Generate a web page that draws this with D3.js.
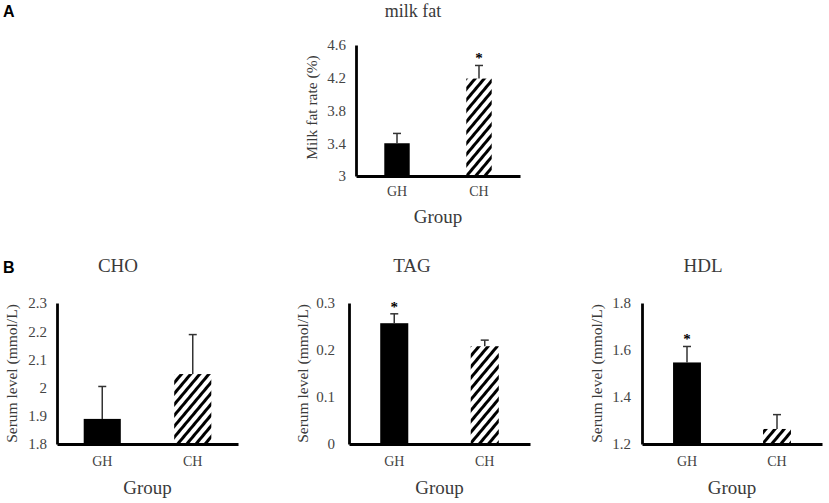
<!DOCTYPE html>
<html>
<head>
<meta charset="utf-8">
<script src="https://cdn.jsdelivr.net/npm/d3@7"></script>
<style>
  body { margin: 0; background: #fff; }
  text { font-family: "Liberation Serif", "Times New Roman", serif; fill: #3a3a3a; }
  .panel-letter { font-family: "Liberation Sans", Arial, sans-serif; font-weight: bold; fill: #000; }
</style>
</head>
<body>
<div id="chart"></div>
<script>
// groups on the x axis
var groups = ['GH', 'CH'];

// milk fat rate (%)
var milkFatMean = [3.40, 4.19];
var milkFatErr = [0.12, 0.16];
var milkFatTicks = [3, 3.4, 3.8, 4.2, 4.6];

// serum CHO (mmol/L)
var choMean = [1.889, 2.048];
var choErr = [0.115, 0.14];
var choTicks = [1.8, 1.9, 2, 2.1, 2.2, 2.3];

// serum TAG (mmol/L)
var tagMean = [0.257, 0.208];
var tagErr = [0.02, 0.013];
var tagTicks = [0, 0.1, 0.2, 0.3];

// serum HDL (mmol/L)
var hdlMean = [1.547, 1.264];
var hdlErr = [0.068, 0.061];
var hdlTicks = [1.2, 1.4, 1.6, 1.8];

// which group is marked significant (*)
var milkFatSig = ['CH'];
var tagSig = ['GH'];
var hdlSig = ['GH'];
var choSig = [];

var W = 829, H = 503;

var svg = d3.select('#chart').append('svg')
    .attr('width', W)
    .attr('height', H);

var defs = svg.append('defs');
defs.append('pattern')
    .attr('id', 'hatch')
    .attr('patternUnits', 'userSpaceOnUse')
    .attr('width', 7)
    .attr('height', 7)
    .attr('patternTransform', 'rotate(40)')
  .append('rect')
    .attr('x', 0).attr('y', 0)
    .attr('width', 3).attr('height', 7)
    .attr('fill', '#000');

// panel letters
svg.append('text').attr('class', 'panel-letter')
    .attr('x', 3).attr('y', 17).style('font-size', '16px').text('A');
svg.append('text').attr('class', 'panel-letter')
    .attr('x', 3).attr('y', 273).style('font-size', '16px').text('B');

function drawPanel(p) {
  var g = svg.append('g');

  var x = d3.scaleBand()
      .domain(groups)
      .range([p.left, p.right])
      .paddingInner(p.pad)
      .paddingOuter(p.pad / 2);

  var y = d3.scaleLinear()
      .domain([p.ticks[0], p.ticks[p.ticks.length - 1]])
      .range([p.bottom, p.top]);

  var rows = groups.map(function(k, i) {
    return { group: k, mean: p.mean[i], err: p.err[i], sig: p.sig.indexOf(k) >= 0 };
  });

  // bars
  g.selectAll('rect.bar')
    .data(rows)
    .enter()
    .append('rect')
      .attr('class', 'bar')
      .attr('x', function(d) { return x(d.group); })
      .attr('y', function(d) { return y(d.mean); })
      .attr('width', x.bandwidth())
      .attr('height', function(d) { return y(p.ticks[0]) - y(d.mean); })
      .attr('fill', function(d, i) { return i === 0 ? '#000' : 'url(#hatch)'; });

  // error bars, upper half only
  var eb = g.selectAll('g.err')
    .data(rows)
    .enter()
    .append('g')
      .attr('class', 'err')
      .attr('stroke', '#333')
      .attr('stroke-width', 1.5);
  eb.append('line')
      .attr('x1', function(d) { return x(d.group) + x.bandwidth() / 2; })
      .attr('x2', function(d) { return x(d.group) + x.bandwidth() / 2; })
      .attr('y1', function(d) { return y(d.mean); })
      .attr('y2', function(d) { return y(d.mean + d.err); });
  eb.append('line')
      .attr('x1', function(d) { return x(d.group) + x.bandwidth() / 2 - 4; })
      .attr('x2', function(d) { return x(d.group) + x.bandwidth() / 2 + 4; })
      .attr('y1', function(d) { return y(d.mean + d.err); })
      .attr('y2', function(d) { return y(d.mean + d.err); });

  // significance stars
  g.selectAll('text.sig')
    .data(rows.filter(function(d) { return d.sig; }))
    .enter()
    .append('text')
      .attr('class', 'sig')
      .attr('x', function(d) { return x(d.group) + x.bandwidth() / 2; })
      .attr('y', function(d) { return y(d.mean + d.err) - 2; })
      .attr('text-anchor', 'middle')
      .style('font-size', '15px')
      .style('font-weight', 'bold')
      .style('fill', '#000')
      .text('*');

  // y axis
  var yAxis = g.append('g')
      .attr('transform', 'translate(' + p.left + ',0)')
      .call(d3.axisLeft(y).tickValues(p.ticks).tickSize(0).tickPadding(p.tickPad)
        .tickFormat(function(d) { return d3.format('~g')(d); }));
  yAxis.select('.domain').attr('stroke', '#000').attr('stroke-width', 2.8);
  yAxis.selectAll('text')
      .style('font-family', '"Liberation Serif", serif')
      .style('font-size', '15px')
      .style('fill', '#444');

  // x axis
  var xAxis = g.append('g')
      .attr('transform', 'translate(0,' + p.bottom + ')')
      .call(d3.axisBottom(x).tickSize(0).tickPadding(p.xPad));
  xAxis.select('.domain').attr('stroke', '#000').attr('stroke-width', 2.8);
  xAxis.selectAll('text')
      .style('font-family', '"Liberation Serif", serif')
      .style('font-size', '14px')
      .style('fill', '#444');

  // titles
  g.append('text')
      .attr('x', p.titleX)
      .attr('y', p.titleY)
      .attr('text-anchor', 'middle')
      .style('font-size', p.titleSize + 'px')
      .text(p.title);

  g.append('text')
      .attr('x', (p.left + p.right) / 2)
      .attr('y', p.bottom + p.groupDy)
      .attr('text-anchor', 'middle')
      .style('font-size', '19px')
      .text('Group');

  g.append('text')
      .attr('transform', 'translate(' + p.ylabX + ',' + ((p.top + p.bottom) / 2 + p.ylabDy) + ') rotate(-90)')
      .attr('text-anchor', 'middle')
      .style('font-size', '15.5px')
      .text(p.ylab);
}

drawPanel({ title: 'milk fat', titleX: 413, titleY: 17, titleSize: 18,
  mean: milkFatMean, err: milkFatErr, ticks: milkFatTicks, sig: milkFatSig,
  left: 356, right: 520, top: 45, bottom: 176, pad: 0.69, tickPad: 10, xPad: 10,
  groupDy: 47, ylab: 'Milk fat rate (%)', ylabX: 317, ylabDy: -3 });

drawPanel({ title: 'CHO', titleX: 118, titleY: 272, titleSize: 19,
  mean: choMean, err: choErr, ticks: choTicks, sig: choSig,
  left: 57, right: 238, top: 303, bottom: 444, pad: 0.59, tickPad: 10, xPad: 12,
  groupDy: 50, ylab: 'Serum level (mmol/L)', ylabX: 17, ylabDy: 0 });

drawPanel({ title: 'TAG', titleX: 412, titleY: 272, titleSize: 19,
  mean: tagMean, err: tagErr, ticks: tagTicks, sig: tagSig,
  left: 349, right: 530, top: 303, bottom: 444, pad: 0.69, tickPad: 14, xPad: 12,
  groupDy: 50, ylab: 'Serum level (mmol/L)', ylabX: 308, ylabDy: 0 });

drawPanel({ title: 'HDL', titleX: 703, titleY: 272, titleSize: 19,
  mean: hdlMean, err: hdlErr, ticks: hdlTicks, sig: hdlSig,
  left: 642, right: 822, top: 303, bottom: 444, pad: 0.69, tickPad: 11, xPad: 12,
  groupDy: 50, ylab: 'Serum level (mmol/L)', ylabX: 602, ylabDy: 0 });
</script>
</body>
</html>
